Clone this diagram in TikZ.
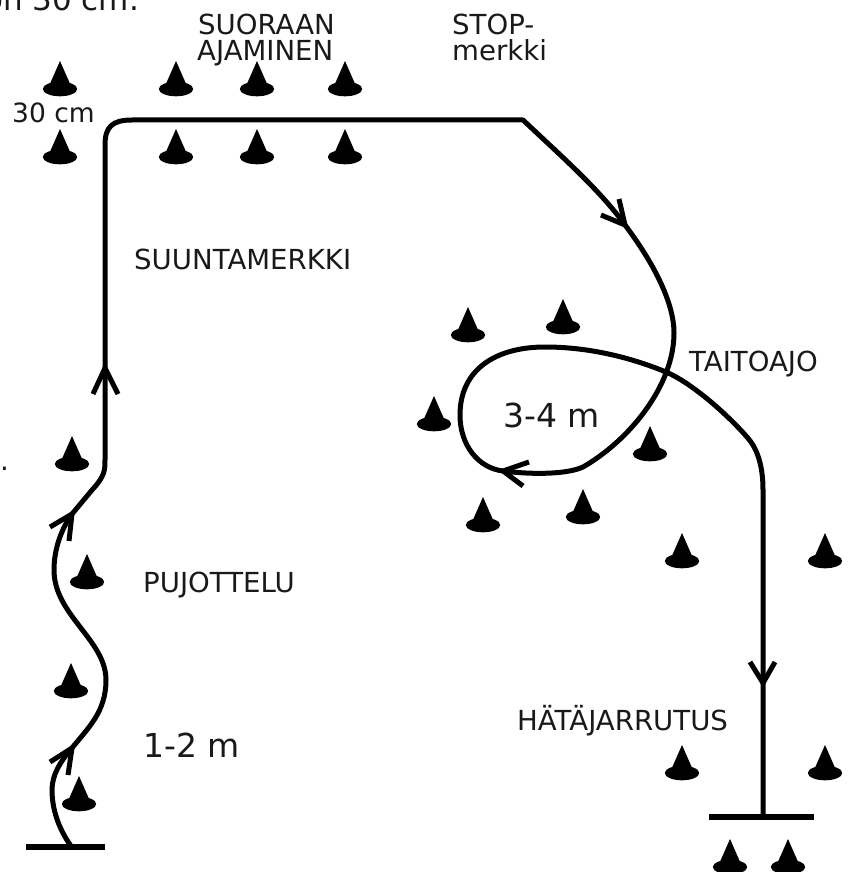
\documentclass[tikz,border=0pt]{standalone}
\usepackage{fontspec}
\setmainfont{DejaVu Sans}
\tikzset{
  track/.style={draw=black,line width=5pt,line join=round},
  barb/.style={draw=black,line width=5pt},
  bar/.style={draw=black,line width=6pt},
  lab/.style={inner sep=0pt,anchor=base west,font=\fontsize{27.6}{28}\selectfont,text=black!90},
  big/.style={inner sep=0pt,anchor=base west,font=\fontsize{33}{34}\selectfont,text=black!90},
  pics/conemark/.style={code={
    \fill[black] (0,0) ellipse [x radius=17.2,y radius=7.3];
    \fill[black] (0,-28) -- (11,-3) -- (-11,-3) -- cycle;
  }}
}
\begin{document}
\begin{tikzpicture}[x=1pt,y=-1pt]
\useasboundingbox (0,0) rectangle (853,872);
\fill[white] (0,0) rectangle (853,872);
% cones
\foreach \cx/\cy in {60/89,176/89,257/89,345/89,60/157,176/157,257/157,345/157,
  72/464,87/582,71/691,79/804,468/335,563/327,434/424,650/454,483/525,583/517,
  682/561,825/561,682/773,825/773,730/867,788/867}{
  \pic at (\cx,\cy) {conemark};
}
% bars
\coordinate (s1) at (26,847); \coordinate (s2) at (105,847);
\coordinate (f1) at (709,817); \coordinate (f2) at (814,817);
\draw[bar] (s1) -- (s2);
\draw[bar] (f1) -- (f2);
% track points
\coordinate (p0) at (71,846);
\coordinate (a1) at (72,748);
\coordinate (a2) at (72,514);
\coordinate (a3) at (105,368);
\coordinate (a4) at (625,225);
\coordinate (a5) at (503,471);
\coordinate (a6) at (763,683);
\coordinate (pe) at (763,817);
\draw[track]
  (p0) .. controls (58,828) and (52,808) .. (52,790)
  .. controls (52,775) and (60,762) .. (a1)
  .. controls (88,728) and (106,712) .. (106,680)
  .. controls (106,640) and (54,615) .. (54,570)
  .. controls (54,548) and (62,528) .. (a2)
  -- (92,490) .. controls (105,476) and (105,470) .. (105,460)
  -- (a3) -- (105,145)
  .. controls (105,127) and (112,120) .. (132,120)
  -- (523,120) .. controls (560,155) and (600,190) .. (a4)
  .. controls (650,258) and (674,300) .. (674,333)
  .. controls (674,385) and (630,440) .. (583,467)
  .. controls (568,474) and (535,475) .. (a5)
  .. controls (478,468) and (460,445) .. (460,415)
  .. controls (460,370) and (495,347) .. (545,347)
  .. controls (590,347) and (632,358) .. (666,372)
  .. controls (690,382) and (725,412) .. (747,437)
  .. controls (757,448) and (763,465) .. (763,490)
  -- (a6) -- (pe);
% arrow barbs
\coordinate (b1a) at (50,762); \coordinate (b1b) at (68,775);
\coordinate (b2a) at (50,527); \coordinate (b2b) at (69,541);
\coordinate (b3a) at (93,394); \coordinate (b3b) at (118,394);
\coordinate (b4a) at (619,199); \coordinate (b4b) at (601,215);
\coordinate (b5a) at (529,462); \coordinate (b5b) at (523,486);
\coordinate (b6a) at (750,662); \coordinate (b6b) at (775,662);
\draw[barb] (b1a) -- (a1) -- (b1b);
\draw[barb] (b2a) -- (a2) -- (b2b);
\draw[barb] (b3a) -- (a3) -- (b3b);
\draw[barb] (b4a) -- (a4) -- (b4b);
\draw[barb] (b5a) -- (a5) -- (b5b);
\draw[barb] (b6a) -- (a6) -- (b6b);
% labels
\node[lab] (t1) at (198,35) {SUORAAN};
\node[lab] (t2) at (197,61) {AJAMINEN};
\node[lab] (t3) at (452,35) {STOP-};
\node[lab] (t4) at (452,61) {merkki};
\node[lab,font=\fontsize{26.5}{27}\selectfont] (t5) at (12,123) {30 cm};
\node[lab] (t6) at (134,269) {SUUNTAMERKKI};
\node[lab] (t7) at (689,371) {TAITOAJO};
\node[lab] (t8) at (143,592) {PUJOTTELU};
\node[lab] (t9) at (517,730) {HÄTÄJARRUTUS};
\node[big] (t10) at (503,427) {3-4 m};
\node[big] (t11) at (143,757) {1-2 m};
\node[lab,font=\fontsize{31}{32}\selectfont] (t12) at (-16,11) {on 30 cm.};
\node[lab] (t13) at (0,470) {.};
\end{tikzpicture}
\end{document}
